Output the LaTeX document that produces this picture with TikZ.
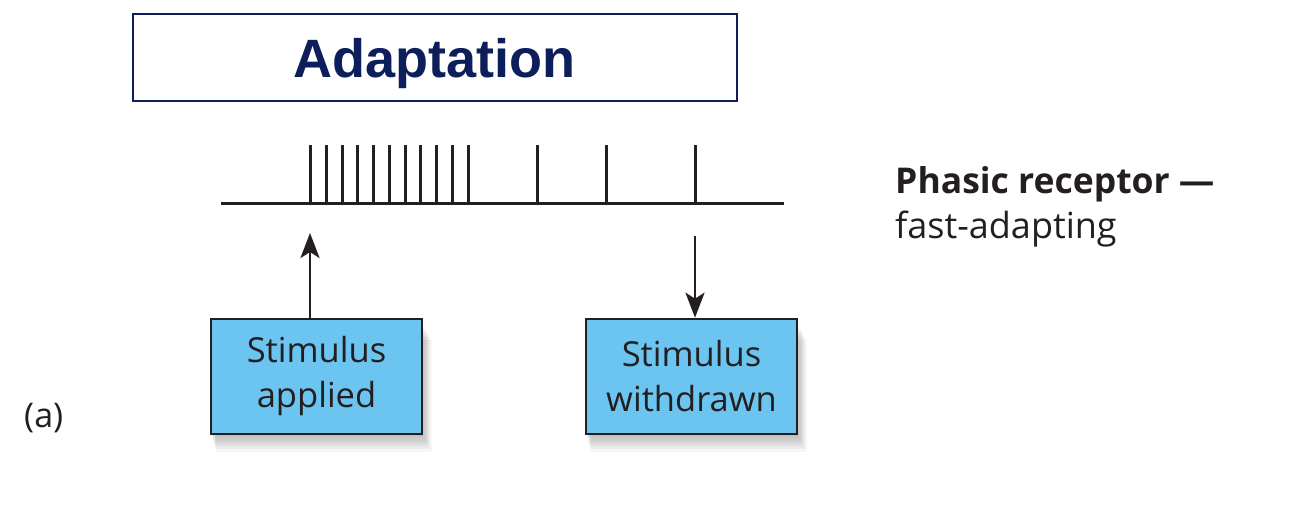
\documentclass[tikz,border=0pt]{standalone}
\usepackage{fontspec}
\setmainfont{Open Sans}
\newfontfamily\titlefont{Liberation Sans}
\usetikzlibrary{arrows.meta}
\definecolor{navy}{HTML}{0C1F5B}
\definecolor{ink}{HTML}{231F20}
\definecolor{boxblue}{HTML}{6BC5F0}
\tikzset{
  spikeline/.style={line width=3pt, draw=ink},
  stimbox/.style={draw=ink, line width=2.6pt, fill=boxblue, minimum width=211pt, minimum height=115pt,
     align=center, text=ink, font=\fontsize{34.5}{45}\selectfont, inner sep=0pt},
  arr/.style={line width=2.8pt, draw=ink, -{Stealth[length=25pt,width=19pt,inset=6pt]}},
  plainlabel/.style={anchor=base west, inner sep=0pt, text=ink},
}
\begin{document}
\begin{tikzpicture}[x=1pt,y=-1pt]
\useasboundingbox (0,0) rectangle (1290,506);
% title
\node[draw=navy, line width=2.4pt, minimum width=604pt, minimum height=87pt, inner sep=0pt] (title) at (435,57.5) {};
\node[anchor=base, inner sep=0pt, text=navy, font=\titlefont\bfseries\fontsize{54}{60}\selectfont] (titletext) at (434,77) {Adaptation};
% baseline and spikes
\coordinate (bl) at (221,203);
\coordinate (br) at (784,203);
\draw[spikeline] (bl) -- (br);
\foreach \x [count=\i] in {310,326,342,357.5,373.5,389,405,420.5,436.5,452,468,537.5,606,695}{
  \coordinate (s\i) at (\x,203);
  \draw[spikeline] (s\i) -- ++(0,-58);
}
% shadows
\foreach \k in {1,...,8}{
  \fill[black, opacity=0.035] (211+\k*0.6,322+\k*2.2) rectangle (422+\k*1.2,434+\k*2.2);
  \fill[black, opacity=0.035] (586+\k*0.6,322+\k*2.2) rectangle (797+\k*1.2,434+\k*2.2);
}
% boxes
\node[stimbox] (applied) at (316.5,376.5) {Stimulus\\applied};
\node[stimbox] (withdrawn) at (691.5,376.5) {Stimulus\\withdrawn};
% arrows
\coordinate (upend) at (310,233);
\coordinate (downstart) at (695,236);
\draw[arr] (applied.north -| upend) -- (upend);
\draw[arr] (downstart) -- (withdrawn.north -| downstart);
% labels
\node[plainlabel, font=\bfseries\fontsize{35.5}{40}\selectfont] (phasic) at (895,193) {Phasic receptor —};
\node[plainlabel, font=\fontsize{36}{40}\selectfont] (fast) at (895,238) {fast-adapting};
\node[plainlabel, font=\fontsize{34}{40}\selectfont] (alabel) at (24,427) {(a)};
\end{tikzpicture}
\end{document}
